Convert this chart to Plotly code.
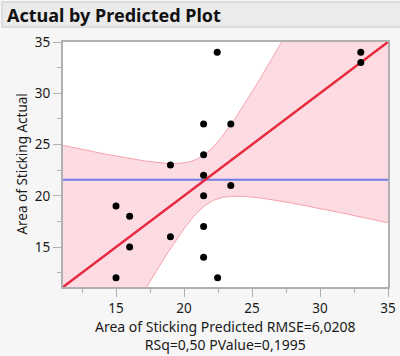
import numpy as np
import plotly.graph_objects as go

# ---- data ----
predicted = [22.44, 21.44, 23.44, 21.44, 19.0, 21.44, 23.44, 21.44, 33.0, 33.0,
             15.0, 16.0, 16.0, 19.0, 21.44, 21.44, 15.0, 22.47]
actual = [34, 27, 27, 24, 23, 22, 21, 20, 34, 33,
          19, 18, 15, 16, 17, 14, 12, 12]
tick_vals = [15, 20, 25, 30, 35]

# model statistics (from the reference text / JMP report)
rmse = 6.0208
n_obs = len(actual)
f_stat = 1.833      # whole-model F
f_crit = 3.09       # F critical value, alpha = 0.05

axis_range = [11.1, 35.0]

# ---- derived: mean line and leverage-plot confidence curves ----
y_mean = float(np.mean(actual))
z = np.linspace(axis_range[0] - 1, axis_range[1] + 1, 400)
A = f_crit * rmse ** 2 / n_obs
B = f_crit / f_stat
half = np.sqrt(A + B * (z - y_mean) ** 2)
upper = z + half
lower = z - half

FONT = "Noto Sans"
band_fill = "rgba(252,218,224,0.95)"
band_edge = "#f4a2ad"

fig = go.Figure()
fig.add_trace(go.Scatter(x=z, y=lower, mode="lines",
                         line=dict(color=band_edge, width=1), hoverinfo="skip"))
fig.add_trace(go.Scatter(x=z, y=upper, mode="lines", fill="tonexty",
                         fillcolor=band_fill,
                         line=dict(color=band_edge, width=1), hoverinfo="skip"))
fig.add_trace(go.Scatter(x=axis_range, y=[y_mean, y_mean], mode="lines",
                         line=dict(color="#6e7ee2", width=2)))
fig.add_trace(go.Scatter(x=axis_range, y=axis_range, mode="lines",
                         line=dict(color="#e8283c", width=2.5)))
fig.add_trace(go.Scatter(x=predicted, y=actual, mode="markers",
                         marker=dict(color="black", size=7)))

axis_common = dict(
    range=axis_range, tickvals=tick_vals, showgrid=False, zeroline=False,
    automargin=False,
    showline=True, linecolor="#b0b0b0", linewidth=2, mirror=True,
    ticks="outside", ticklen=8, tickcolor="#b0b0b0", tickwidth=1,
    tickfont=dict(family=FONT, size=13.5, color="#1a1a1a"),
    minor=dict(dtick=2.5, tick0=0, ticks="outside", ticklen=4,
               tickcolor="#b0b0b0", tickwidth=1, showgrid=False),
)
fig.update_xaxes(**axis_common, ticklabelstandoff=0)
fig.update_yaxes(**axis_common, ticklabelstandoff=0)

fig.update_layout(
    width=400, height=356,
    margin=dict(l=63, r=12, t=42, b=69, autoexpand=False),
    paper_bgcolor="#f6f6f6", plot_bgcolor="white",
    showlegend=False,
    shapes=[dict(type="rect", xref="paper", yref="paper",
                 x0=-0.1877, x1=1.06, y0=1.0612, y1=1.1633,
                 fillcolor="#ebebeb", line=dict(color="#c8c8c8", width=1),
                 layer="above")],
    annotations=[
        dict(text="<b>Actual by Predicted Plot</b>", xref="paper", yref="paper",
             x=-0.1785, y=1.112, xanchor="left", yanchor="middle",
             showarrow=False, font=dict(family=FONT, size=18, color="#111111")),
        dict(text="Area of Sticking Actual", xref="paper", yref="paper",
             x=-0.129, y=0.5, textangle=-90, xanchor="center", yanchor="middle",
             showarrow=False, font=dict(family=FONT, size=13.5, color="#1a1a1a")),
        dict(text="Area of Sticking Predicted RMSE=6,0208<br>RSq=0,50 PValue=0,1995",
             xref="paper", yref="paper", x=0.5, y=-0.196,
             xanchor="center", yanchor="middle", showarrow=False,
             font=dict(family=FONT, size=14, color="#1a1a1a")),
    ],
)

fig.write_html("out.html",
               config={"displayModeBar": False},
               post_script="document.body.style.margin='0';"
                           "document.body.style.background='#f6f6f6';")
